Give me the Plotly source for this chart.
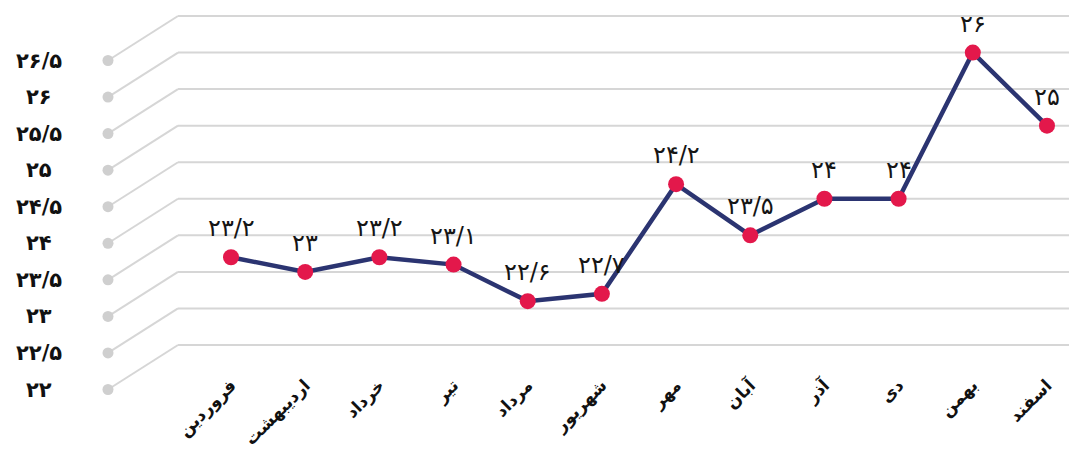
import plotly.graph_objects as go

# ---------------- data ----------------
months = ["فروردین", "اردیبهشت", "خرداد", "تیر", "مرداد", "شهریور",
          "مهر", "آبان", "آذر", "دی", "بهمن", "اسفند"]
values = [23.2, 23.0, 23.2, 23.1, 22.6, 22.7, 24.2, 23.5, 24.0, 24.0, 26.0, 25.0]
y_ticks = [22, 22.5, 23, 23.5, 24, 24.5, 25, 25.5, 26, 26.5]

PERSIAN = str.maketrans("0123456789.", "۰۱۲۳۴۵۶۷۸۹/")


def fa(v):
    s = f"{v:.1f}".rstrip("0").rstrip(".")
    return s.translate(PERSIAN)


value_labels = [fa(v) for v in values]
y_tick_labels = [fa(v) for v in y_ticks]

# ---------------- geometry / style ----------------
# the page body has an 8px margin, so the figure is 8px smaller than the window
OFF = 8
W, H = 1077 - OFF, 449 - OFF
MB = 40
PLOT_H = H - MB
PX22 = 345.0 - OFF        # pixel row of value 22 on the back wall
PPU = 73.11               # pixels per unit
FRONT_DROP = 44.5 / PPU   # perspective drop (in data units) of the front edge
X0PX, DXPX = 231.0 - OFF, 74.18
FRONT_X = (108 - OFF) / W
BACK_X = (178 - OFF) / W
LABEL_X = (39 - OFF) / W
XAXIS_PX = 371 - OFF

FONT = "DejaVu Sans"
GRID = "#d6d6d6"
LINE_C = "#2b3471"
MARK_C = "#e3184b"

fig = go.Figure()

fig.add_trace(go.Scatter(
    x=list(range(len(months))), y=values, mode="lines+markers",
    line=dict(color=LINE_C, width=4.5),
    marker=dict(color=MARK_C, size=16),
    hoverinfo="skip", showlegend=False, cliponaxis=False,
))

shapes = []
annotations = []
for v, lab in zip(y_ticks, y_tick_labels):
    shapes.append(dict(type="line", xref="paper", yref="y", x0=BACK_X, x1=1.0,
                       y0=v, y1=v, line=dict(color=GRID, width=2), layer="below"))
    shapes.append(dict(type="line", xref="paper", yref="y", x0=FRONT_X, x1=BACK_X,
                       y0=v - FRONT_DROP, y1=v, line=dict(color=GRID, width=2),
                       layer="below"))
    shapes.append(dict(type="circle", xref="paper", yref="y",
                       xsizemode="pixel", ysizemode="pixel",
                       xanchor=FRONT_X, yanchor=v - FRONT_DROP,
                       x0=-5.5, x1=5.5, y0=-5.5, y1=5.5,
                       fillcolor="#cfcfcf", line=dict(width=0), layer="below"))
    annotations.append(dict(xref="paper", yref="y", x=LABEL_X, y=v - FRONT_DROP,
                            text=f"<b>{lab}</b>", showarrow=False,
                            xanchor="center", yanchor="middle",
                            font=dict(family=FONT, size=21, color="#111111")))

for i, (v, lab) in enumerate(zip(values, value_labels)):
    annotations.append(dict(x=i, y=v, xref="x", yref="y", text=lab, showarrow=False,
                            yshift=29, xanchor="center", yanchor="middle",
                            font=dict(family=FONT, size=24, color="#151515")))

y_lo = 22 - (PLOT_H - PX22) / PPU
y_hi = 22 + PX22 / PPU

fig.update_layout(
    width=W, height=H,
    margin=dict(l=0, r=0, t=0, b=MB, autoexpand=False),
    paper_bgcolor="white", plot_bgcolor="white",
    shapes=shapes, annotations=annotations,
    xaxis=dict(
        range=[-X0PX / DXPX, (W - X0PX) / DXPX],
        tickmode="array", tickvals=list(range(len(months))),
        ticktext=[f"<b>{m}</b>" for m in months],
        tickangle=-45, showgrid=False, zeroline=False, showline=False,
        ticks="", anchor="free", position=(PLOT_H - XAXIS_PX) / PLOT_H,
        automargin=False,
        tickfont=dict(family=FONT, size=17, color="#111111"),
    ),
    yaxis=dict(range=[y_lo, y_hi], showgrid=False, zeroline=False,
               showticklabels=False, showline=False, ticks="", automargin=False),
    showlegend=False,
)

fig.write_html("out.html")
